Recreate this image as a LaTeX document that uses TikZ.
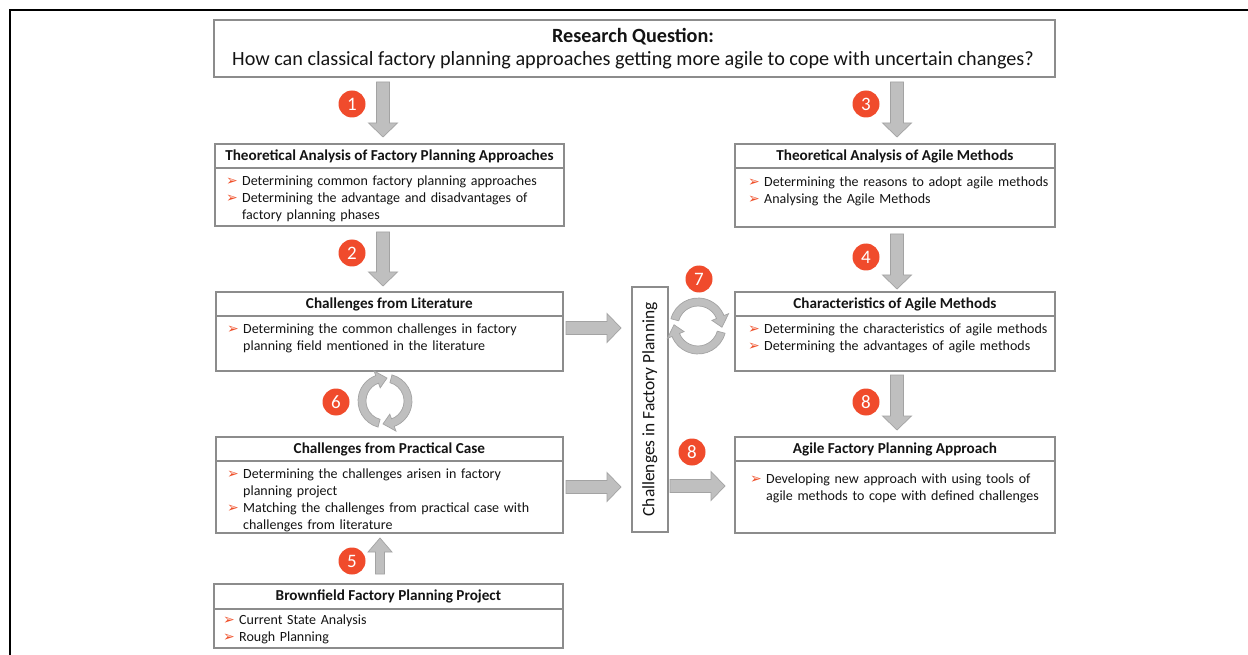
\documentclass[tikz,border=0pt]{standalone}
\usepackage{fontspec}
\setmainfont{Carlito}
\newfontfamily\symfont{DejaVu Sans}
\usetikzlibrary{calc}

\definecolor{frame}{HTML}{8C8C8C}
\definecolor{badgered}{HTML}{F04B2C}
\definecolor{arrfill}{HTML}{BFBFBF}
\definecolor{arredge}{HTML}{A3A3A3}
\definecolor{bulletred}{HTML}{F0502A}
\definecolor{ink}{HTML}{141414}

% red arrowhead bullet and a hanging-indent list item
\newcommand\bul{{\symfont\color{bulletred}\fontsize{14}{14}\selectfont ➢}}
\newcommand\itm[1]{\par\noindent\hangindent=16pt\hangafter=1\makebox[16pt][l]{\bul}#1\par}

% vertical block arrow: x, tail y, tip y, shaft half width, head half width, head length
\newcommand\varrow[6]{%
  \pgfmathsetmacro\headbase{#3 - sign(#3-#2)*#6}
  \path[blockarrow] (#1-#4,#2) -- (#1-#4,\headbase) -- (#1-#5,\headbase) -- (#1,#3)
    -- (#1+#5,\headbase) -- (#1+#4,\headbase) -- (#1+#4,#2) -- cycle;}
% horizontal block arrow: y, tail x, tip x, shaft half width, head half width, head length
\newcommand\harrow[6]{%
  \pgfmathsetmacro\headbase{#3 - sign(#3-#2)*#6}
  \path[blockarrow] (#2,#1-#4) -- (\headbase,#1-#4) -- (\headbase,#1-#5) -- (#3,#1)
    -- (\headbase,#1+#5) -- (\headbase,#1+#4) -- (#2,#1+#4) -- cycle;}

% one half of a circular "cycle" arrow: centre, inner/outer radius, start/end angle, tip angle
\newcommand\cyclepiece[7]{%
  \begin{scope}[shift={(#1,#2)}]
    \path[blockarrow] (#5:#4) arc[start angle=#5, end angle=#6, radius=#4]
      -- (#6:{#4+5}) -- (#7:{(#3+#4)/2}) -- (#6:{#3-5}) -- (#6:#3)
      arc[start angle=#6, end angle=#5, radius=#3] -- cycle;
  \end{scope}}

\begin{document}
\begin{tikzpicture}[x=1pt,y=-1pt,
  box/.style={draw=frame, line width=1.8pt, fill=white, inner sep=0pt, anchor=north west},
  headrule/.style={draw=frame, line width=1.8pt},
  hdr/.style={font=\fontsize{15.2}{18}\selectfont\bfseries, text=ink, inner sep=0pt},
  itemlist/.style={anchor=north west, inner sep=0pt, text width=#1, align=left,
                   font=\fontsize{14}{17}\selectfont, text=ink},
  badge/.style={circle, fill=badgered, text=white, minimum size=27pt, inner sep=0pt,
                font=\fontsize{19}{19}\selectfont},
  blockarrow/.style={draw=arredge, fill=arrfill, line width=0.7pt}
]
\useasboundingbox (0,0) rectangle (1248,655);
\fill[white] (0,0) rectangle (1248,655);

% outer frame
\draw[black, line width=2.5pt] (10,680) -- (10,10) -- (1270,10);

% research question
\node[box, minimum width=841pt, minimum height=57pt] (Q) at (213,19) {};
\node[font=\fontsize{20.2}{24}\selectfont\bfseries, text=ink, inner sep=0pt] (Qt) at (633,37) {Research Question:};
\node[font=\fontsize{20.2}{24}\selectfont, text=ink, inner sep=0pt] (Qs) at (633,60)
  {How can classical factory planning approaches getting more agile to cope with uncertain changes?};

% boxes with a header row
\node[box, minimum width=349pt, minimum height=82pt] (A) at (214,143) {};
\node[box, minimum width=320pt, minimum height=83pt] (B) at (734,143) {};
\node[box, minimum width=347pt, minimum height=79pt] (C) at (215,291) {};
\node[box, minimum width=320pt, minimum height=79pt] (D) at (734,291) {};
\node[box, minimum width=347pt, minimum height=96pt] (E) at (215,436) {};
\node[box, minimum width=320pt, minimum height=96pt] (F) at (734,436) {};
\node[box, minimum width=349pt, minimum height=64pt] (G) at (213,583) {};
\foreach \b/\h in {A/25,B/25,C/25,D/25,E/25,F/25,G/26}
  \draw[headrule] ([yshift=-\h pt]\b.north west) -- ([yshift=-\h pt]\b.north east);

\node[hdr] (Ah) at ([yshift=-13pt]A.north) {Theoretical Analysis of Factory Planning Approaches};
\node[hdr] (Bh) at ([yshift=-13pt]B.north) {Theoretical Analysis of Agile Methods};
\node[hdr] (Ch) at ([yshift=-13pt]C.north) {Challenges from Literature};
\node[hdr] (Dh) at ([yshift=-13pt]D.north) {Characteristics of Agile Methods};
\node[hdr] (Eh) at ([yshift=-13pt]E.north) {Challenges from Practical Case};
\node[hdr] (Fh) at ([yshift=-13pt]F.north) {Agile Factory Planning Approach};
\node[hdr] (Gh) at ([yshift=-13pt]G.north) {Brownfield Factory Planning Project};

\node[itemlist=335pt] (Al) at (226,168) {%
  \itm{Determining common factory planning approaches}
  \itm{Determining the advantage and disadvantages of\newline factory planning phases}};
\node[itemlist=305pt] (Bl) at (748,169) {%
  \itm{Determining the reasons to adopt agile methods}
  \itm{Analysing the Agile Methods}};
\node[itemlist=335pt] (Cl) at (227,316) {%
  \itm{Determining the common challenges in factory\newline planning field mentioned in the literature}};
\node[itemlist=305pt] (Dl) at (748,316) {%
  \itm{Determining the characteristics of agile methods}
  \itm{Determining the advantages of agile methods}};
\node[itemlist=335pt] (El) at (227,461) {%
  \itm{Determining the challenges arisen in factory\newline planning project}
  \itm{Matching the challenges from practical case with\newline challenges from literature}};
\node[itemlist=305pt] (Fl) at (750,466) {%
  \itm{Developing new approach with using tools of\newline agile methods to cope with defined challenges}};
\node[itemlist=335pt] (Gl) at (223,607) {%
  \itm{Current State Analysis}
  \itm{Rough Planning}};

% vertical collector box
\node[box, minimum width=36pt, minimum height=245pt] (V) at (631,286) {};
\node[rotate=90, font=\fontsize{17.4}{20}\selectfont, text=ink, inner sep=0pt] (Vt) at (V.center) {Challenges in Factory Planning};

% block arrows between the boxes
\varrow{383}{82}{137}{6.5}{14.5}{14}
\varrow{897}{82}{137}{6.5}{14.5}{14}
\varrow{383}{232}{286}{6.5}{14.5}{14}
\varrow{897}{234}{289}{6.5}{14.5}{14}
\varrow{897}{375}{430}{6.5}{14.5}{14}
\varrow{380}{574}{538}{4.5}{12}{14}
\harrow{328}{566}{621}{6.5}{14.5}{14}
\harrow{487}{566}{621}{6.5}{14.5}{14}
\harrow{486}{670}{725}{6.5}{14.5}{14}

% cycle arrows
\cyclepiece{698}{326}{20}{28}{195}{338}{3}
\cyclepiece{698}{326}{20}{28}{15}{158}{183}
\cyclepiece{385}{401}{19}{27}{105}{250}{275}
\cyclepiece{385}{401}{19}{27}{285}{430}{455}

% step badges
\node[badge] (n1) at (352,104) {1};
\node[badge] (n3) at (866,104) {3};
\node[badge] (n2) at (352,253) {2};
\node[badge] (n4) at (866,257) {4};
\node[badge] (n7) at (699,279) {7};
\node[badge] (n6) at (336,402) {6};
\node[badge] (n8a) at (866,402) {8};
\node[badge] (n8b) at (692,452) {8};
\node[badge] (n5) at (352,561) {5};
\end{tikzpicture}
\end{document}
